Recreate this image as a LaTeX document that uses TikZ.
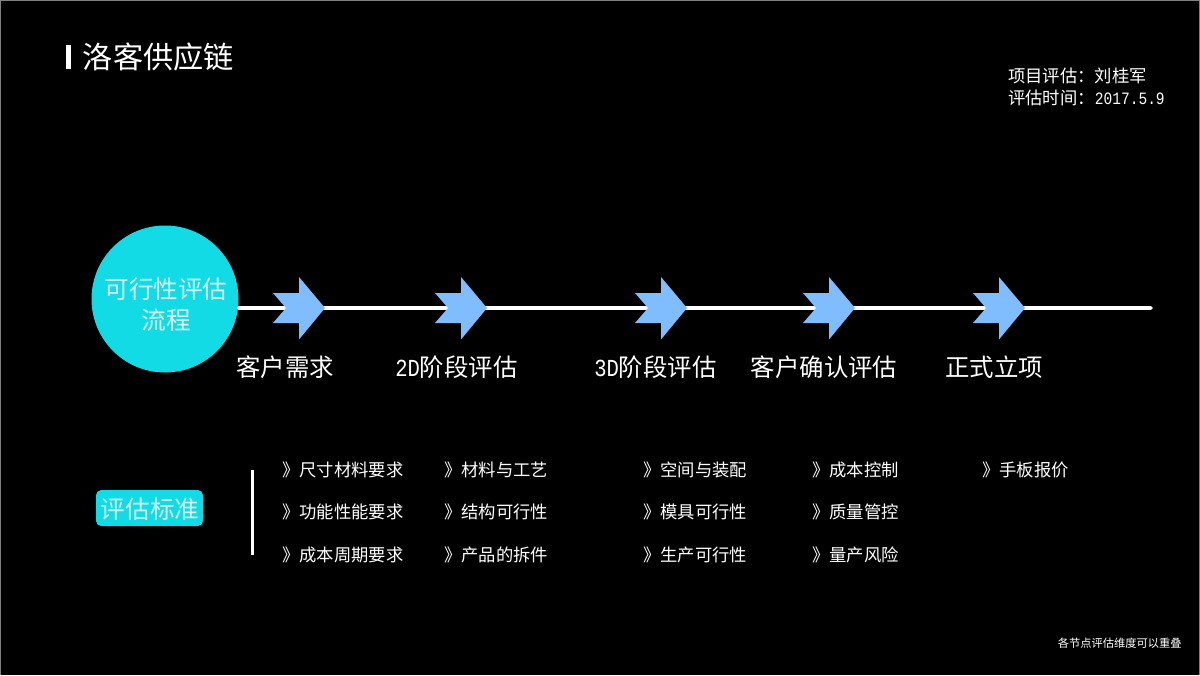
\documentclass[tikz,border=0pt]{standalone}
\usepackage{fontspec}
\setmainfont{Noto Sans CJK SC}
\newfontfamily\digitfont[FakeStretch=.84]{Liberation Mono}
\definecolor{flowcyan}{HTML}{12DBE6}
\definecolor{chevronblue}{HTML}{7FBDFF}
\definecolor{palecyan}{HTML}{D8F8F8}
\tikzset{
  stagelabel/.style={text=white,font=\fontsize{13.9pt}{16pt}\selectfont,inner sep=0pt},
  itemlabel/.style={text=white,anchor=west,font=\fontsize{9.85pt}{12pt}\selectfont,inner sep=0pt},
  infolabel/.style={text=white,anchor=west,font=\fontsize{9.85pt}{12pt}\selectfont,inner sep=0pt},
  chevron/.pic={\fill[chevronblue] (-.52,.3) -- (0,.3) -- (0,.62) -- (.52,0) -- (0,-.63) -- (0,-.3) -- (-.52,-.3) -- (-.26,0) -- cycle;}
}
\begin{document}
\begin{tikzpicture}

\useasboundingbox (0,0) rectangle (24,13.5);
\fill[black] (0,0) rectangle (24,13.5);
\draw[gray,line width=1.2pt] (0,0) -- (0,13.5) -- (24,13.5) -- (24,0);

% header
\node[fill=white,inner sep=0pt,minimum width=.1cm,minimum height=.48cm] (titlebar) at (1.37,12.36) {};
\node[text=white,anchor=west,inner sep=0pt,font=\fontsize{17.2pt}{20pt}\selectfont] (title) at (1.65,12.36) {洛客供应链};
\node[infolabel] (reviewer) at (20.16,11.98) {项目评估：刘桂军};
\node[infolabel] (reviewdate) at (20.16,11.54) {评估时间：{\digitfont 2017.5.9}};

% flow line
\node[circle,fill=flowcyan,inner sep=0pt,minimum size=2.94cm] (flow) at (3.3,7.52) {};
\node[text=palecyan,inner sep=0pt,align=center,font=\fontsize{14pt}{17.8pt}\selectfont] (flowtext) at (3.32,7.41) {可行性评估\\流程};
\coordinate (lineend) at (23.02,7.34);
\draw[white,line width=2pt,line cap=round] (flow.-7) -- (lineend);

\pic at (5.98,7.34) {chevron};
\pic at (9.22,7.34) {chevron};
\pic at (13.22,7.34) {chevron};
\pic at (16.58,7.34) {chevron};
\pic at (19.98,7.34) {chevron};

\node[stagelabel] (demand) at (5.70,6.16) {客户需求};
\node[stagelabel] (stagetwo) at (9.13,6.16) {{\digitfont 2D}阶段评估};
\node[stagelabel] (stagethree) at (13.11,6.16) {{\digitfont 3D}阶段评估};
\node[stagelabel] (confirm) at (16.48,6.16) {客户确认评估};
\node[stagelabel] (launch) at (19.88,6.16) {正式立项};

% criteria
\node[fill=flowcyan,rounded corners=3pt,inner sep=0pt,minimum width=2.14cm,minimum height=.72cm] (criteria) at (2.99,3.34) {};
\node[text=palecyan,inner sep=0pt,font=\fontsize{14pt}{16pt}\selectfont] (criteriatext) at (3.0,3.31) {评估标准};
\coordinate (ruletop) at (5.05,4.1);
\coordinate (rulebottom) at (5.05,2.4);
\draw[white,line width=1.7pt] (ruletop) -- (rulebottom);

\node[itemlabel] (sizeitem) at (5.64,4.10) {》尺寸材料要求};
\node[itemlabel] (funcitem) at (5.64,3.26) {》功能性能要求};
\node[itemlabel] (costitem) at (5.64,2.40) {》成本周期要求};

\node[itemlabel] (craftitem) at (8.88,4.10) {》材料与工艺};
\node[itemlabel] (structitem) at (8.88,3.26) {》结构可行性};
\node[itemlabel] (partsitem) at (8.88,2.40) {》产品的拆件};

\node[itemlabel] (spaceitem) at (12.86,4.10) {》空间与装配};
\node[itemlabel] (moulditem) at (12.86,3.26) {》模具可行性};
\node[itemlabel] (proditem) at (12.86,2.40) {》生产可行性};

\node[itemlabel] (controlitem) at (16.24,4.10) {》成本控制};
\node[itemlabel] (qualityitem) at (16.24,3.26) {》质量管控};
\node[itemlabel] (riskitem) at (16.24,2.40) {》量产风险};

\node[itemlabel] (quoteitem) at (19.64,4.10) {》手板报价};

\node[text=white,anchor=east,inner sep=0pt,font=\fontsize{6.4pt}{8pt}\selectfont] (note) at (23.64,.64) {各节点评估维度可以重叠};

\end{tikzpicture}
\end{document}
